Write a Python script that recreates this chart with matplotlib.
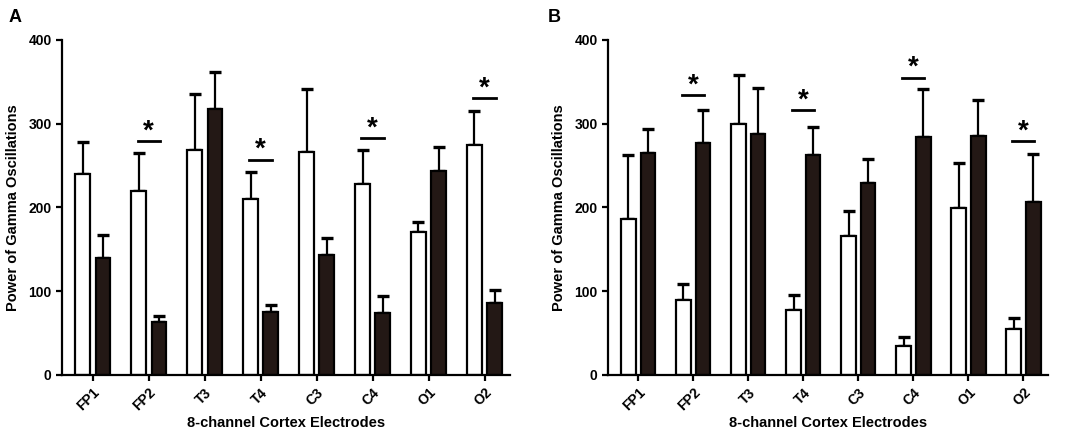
import numpy as np
import matplotlib.pyplot as plt

plt.rcParams['font.family'] = ['Liberation Sans', 'DejaVu Sans']
plt.rcParams['font.weight'] = 'bold'

electrodes = ['FP1', 'FP2', 'T3', 'T4', 'C3', 'C4', 'O1', 'O2']

# panel A
a_white = [240, 220, 268, 210, 266, 228, 171, 275]
a_white_err = [38, 45, 67, 32, 75, 41, 12, 40]
a_black = [140, 63, 318, 75, 143, 74, 244, 86]
a_black_err = [27, 7, 44, 8, 20, 20, 28, 15]
a_sig = [1, 3, 5, 7]
a_sig_y = [279, 257, 283, 330]

# panel B
b_white = [186, 89, 299, 78, 166, 35, 199, 55]
b_white_err = [77, 20, 59, 17, 30, 10, 54, 13]
b_black = [265, 277, 288, 262, 229, 284, 285, 207]
b_black_err = [29, 39, 54, 34, 29, 57, 43, 57]
b_sig = [1, 3, 5, 7]
b_sig_y = [334, 316, 355, 279]

dark = '#231815'
w = 0.26
off = 0.18


def panel(ax, white, werr, black, berr, sig, sig_y):
    x = np.arange(len(electrodes))
    ax.bar(x - off, white, w, color='white', edgecolor='black', linewidth=1.6, zorder=2)
    ax.bar(x + off, black, w, color=dark, edgecolor='black', linewidth=1.6, zorder=2)
    ax.errorbar(x - off, white, yerr=[np.zeros(len(werr)), werr], fmt='none',
                ecolor='black', elinewidth=1.6, capsize=4.5, capthick=2.4, zorder=1)
    ax.errorbar(x + off, black, yerr=[np.zeros(len(berr)), berr], fmt='none',
                ecolor='black', elinewidth=1.6, capsize=4.5, capthick=2.4, zorder=1)
    for i, yy in zip(sig, sig_y):
        ax.plot([i - off - 0.02, i + off + 0.02], [yy, yy], color='black', lw=2)
        ax.text(i, yy - 4, '*', ha='center', va='bottom', fontsize=20, fontweight='bold')
    ax.set_xlim(-0.55, 7.45)
    ax.set_ylim(0, 400)
    ax.set_yticks([0, 100, 200, 300, 400])
    ax.set_xticks(x)
    ax.set_xticklabels(electrodes, rotation=45, ha='right', rotation_mode='anchor')
    ax.spines['top'].set_visible(False)
    ax.spines['right'].set_visible(False)
    ax.spines['left'].set_linewidth(1.6)
    ax.spines['bottom'].set_linewidth(1.6)
    ax.tick_params(width=1.6, length=4, labelsize=10)
    ax.set_ylabel('Power of Gamma Oscillations', fontsize=10.5, fontweight='bold', labelpad=6)
    ax.set_xlabel('8-channel Cortex Electrodes', fontsize=10.5, fontweight='bold', labelpad=2)


fig = plt.figure(figsize=(10.84, 4.33), dpi=100)
ax1 = fig.add_axes([0.0572, 0.134, 0.413, 0.774])
ax2 = fig.add_axes([0.561, 0.134, 0.406, 0.774])
panel(ax1, a_white, a_white_err, a_black, a_black_err, a_sig, a_sig_y)
panel(ax2, b_white, b_white_err, b_black, b_black_err, b_sig, b_sig_y)
fig.text(0.008, 0.96, 'A', fontsize=13, fontweight='bold', va='center')
fig.text(0.505, 0.96, 'B', fontsize=13, fontweight='bold', va='center')

fig.savefig('out.png', dpi=100)
